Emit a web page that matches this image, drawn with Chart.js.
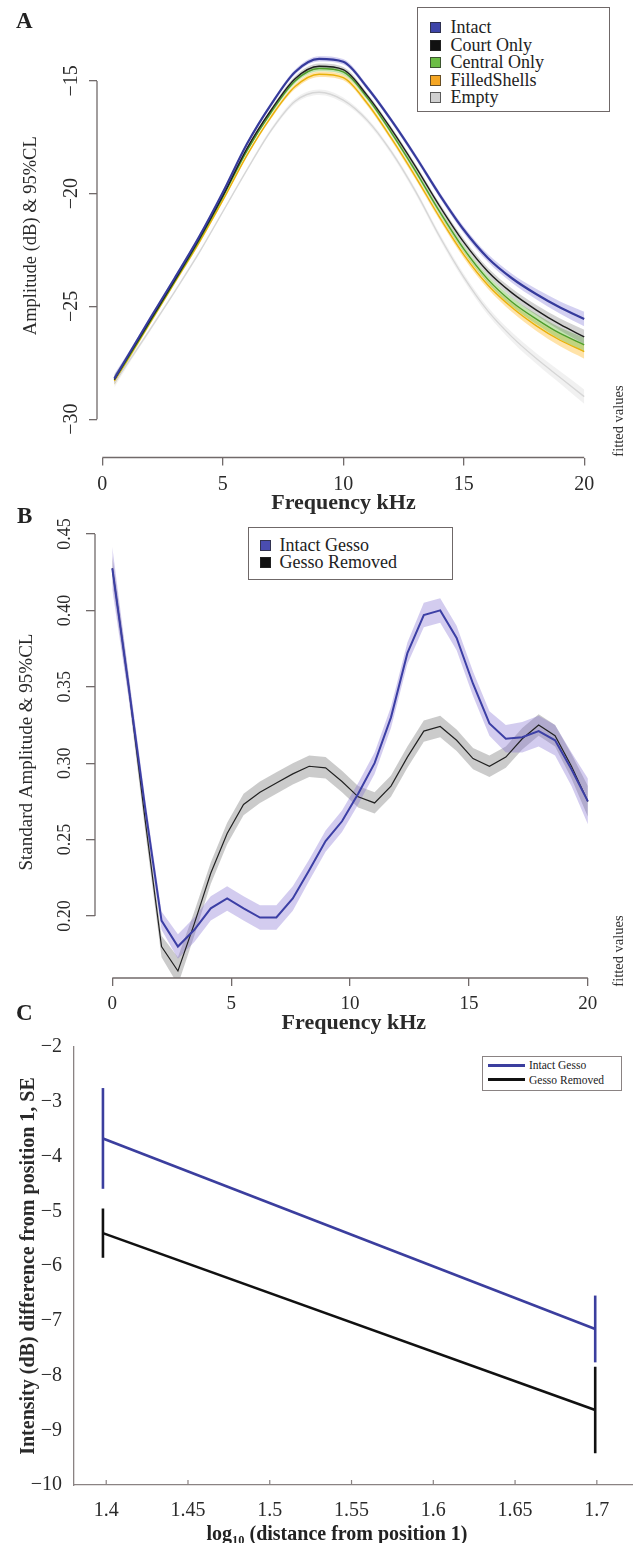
<!DOCTYPE html>
<html>
<head>
<meta charset="utf-8">
<title>Shell amplitude figure</title>
<script src="https://cdn.jsdelivr.net/npm/chart.js@4.4.1/dist/chart.umd.min.js"></script>
<style>
  body { margin: 0; background: #fff; font-family: 'Liberation Serif', 'Times New Roman', serif; color: #222; }
  #page { position: relative; width: 640px; height: 1543px; overflow: hidden; }
  canvas { position: absolute; left: 0; }
  .tag { position: absolute; font-weight: bold; font-size: 23px; line-height: 23px; }
  .legend { position: absolute; box-sizing: border-box; background: #fff; border: 1.5px solid #6f6868; }
  .legend .row { display: flex; align-items: center; white-space: nowrap; }
  .legend .sw { box-sizing: border-box; border: 1px solid rgba(40,40,40,0.7); flex: none; }
  #xTitleC { position: absolute; left: 137px; width: 400px; top: 1521px; line-height: 24px; text-align: center; font-weight: bold; font-size: 20px; }
  #xTitleC sub { font-size: 0.62em; vertical-align: -0.3em; line-height: 0; }
</style>
</head>
<body>
<div id="page">
  <canvas id="chartA" width="640" height="530" style="top:0"></canvas>
  <canvas id="chartB" width="640" height="540" style="top:500px"></canvas>
  <canvas id="chartC" width="640" height="513" style="top:1030px"></canvas>
  <div class="tag" style="left:16px;top:9px">A</div>
  <div class="tag" style="left:17px;top:504px">B</div>
  <div class="tag" style="left:16px;top:1001px">C</div>
  <div class="legend" id="legendA" style="left:417px;top:7px;width:193px;height:105px;padding:11px 0 0 11.5px;font-size:18px"></div>
  <div class="legend" id="legendB" style="left:247.5px;top:527px;width:205.5px;height:52.5px;padding:8.4px 0 0 11.7px;font-size:18px"></div>
  <div class="legend" id="legendC" style="left:481.6px;top:1056px;width:140.4px;height:35px;padding:0.9px 0 0 5.4px;font-size:11.5px;border-color:#8a8383"></div>
  <div id="xTitleC">log<sub>10</sub> (distance from position 1)</div>
</div>
<script>
// panel A: fitted amplitude per shell treatment
const freqA = [0.5, 1, 2, 3, 4, 5, 6, 7, 8, 9, 10, 11, 12, 13, 14, 15, 16, 17, 18, 19, 20];
const intactA = [-28.2, -27.3, -25.5, -23.75, -21.95, -19.95, -17.8, -16.05, -14.6, -14.02, -14.15, -15.3, -16.75, -18.35, -20.05, -21.6, -22.85, -23.75, -24.45, -25.05, -25.56];
const courtA = [-28.25, -27.35, -25.6, -23.85, -22.05, -20.1, -18.0, -16.3, -14.9, -14.35, -14.5, -15.65, -17.15, -18.8, -20.55, -22.15, -23.45, -24.4, -25.15, -25.8, -26.35];
const centralA = [-28.25, -27.4, -25.65, -23.9, -22.1, -20.15, -18.1, -16.4, -15.0, -14.45, -14.6, -15.75, -17.3, -19.0, -20.8, -22.45, -23.8, -24.8, -25.55, -26.2, -26.7];
const filledA = [-28.3, -27.45, -25.7, -23.95, -22.2, -20.3, -18.3, -16.6, -15.25, -14.7, -14.85, -16.0, -17.55, -19.25, -21.05, -22.7, -24.05, -25.05, -25.85, -26.5, -27.0];
const emptyA = [-28.4, -27.6, -26.0, -24.35, -22.65, -20.8, -18.95, -17.2, -15.9, -15.5, -15.85, -16.75, -18.15, -19.9, -21.9, -23.7, -25.2, -26.35, -27.3, -28.15, -29.0];
const ciA = [0.2, 0.12, 0.08, 0.07, 0.07, 0.07, 0.08, 0.09, 0.11, 0.12, 0.12, 0.11, 0.11, 0.12, 0.13, 0.15, 0.17, 0.2, 0.23, 0.27, 0.32];
const namesA = ['Intact', 'Court Only', 'Central Only', 'FilledShells', 'Empty'];
const ticksAx = [0, 5, 10, 15, 20];
const ticksAy = [-30, -25, -20, -15];

// panel B: standard amplitude, gesso intact vs removed
const freqB = [0, 0.69, 1.38, 2.07, 2.76, 3.45, 4.14, 4.83, 5.52, 6.21, 6.9, 7.59, 8.28, 8.97, 9.66, 10.34, 11.03, 11.72, 12.41, 13.1, 13.79, 14.48, 15.17, 15.86, 16.55, 17.24, 17.93, 18.62, 19.31, 20];
const intactB = [0.4275, 0.350, 0.271, 0.197, 0.180, 0.191, 0.205, 0.2115, 0.205, 0.199, 0.199, 0.2115, 0.230, 0.249, 0.262, 0.280, 0.300, 0.330, 0.372, 0.397, 0.400, 0.382, 0.352, 0.326, 0.316, 0.317, 0.321, 0.315, 0.296, 0.275];
const removedB = [0.4275, 0.350, 0.263, 0.180, 0.164, 0.195, 0.228, 0.254, 0.273, 0.281, 0.287, 0.293, 0.298, 0.297, 0.288, 0.278, 0.274, 0.285, 0.304, 0.321, 0.324, 0.315, 0.303, 0.298, 0.304, 0.316, 0.325, 0.318, 0.298, 0.275];
const ciIntactB = [0.014, 0.008, 0.006, 0.006, 0.008, 0.008, 0.008, 0.008, 0.008, 0.008, 0.008, 0.008, 0.007, 0.007, 0.007, 0.007, 0.007, 0.007, 0.007, 0.008, 0.008, 0.008, 0.008, 0.008, 0.009, 0.010, 0.010, 0.010, 0.011, 0.015];
const ciRemovedB = [0.008, 0.007, 0.007, 0.007, 0.009, 0.008, 0.007, 0.007, 0.007, 0.007, 0.007, 0.007, 0.007, 0.007, 0.007, 0.007, 0.007, 0.007, 0.007, 0.007, 0.007, 0.007, 0.007, 0.007, 0.007, 0.007, 0.007, 0.007, 0.008, 0.010];
const namesB = ['Intact Gesso', 'Gesso Removed'];
const ticksBx = [0, 5, 10, 15, 20];
const ticksBy = [0.20, 0.25, 0.30, 0.35, 0.40, 0.45];

// panel C: intensity drop with distance
const distC = [1.398, 1.699];
const intactC = [-3.67, -7.15];
const removedC = [-5.40, -8.63];
const seIntactC = [0.92, 0.61];
const seRemovedC = [0.45, 0.79];
const namesC = ['Intact Gesso', 'Gesso Removed'];
const ticksCx = [1.4, 1.45, 1.5, 1.55, 1.6, 1.65, 1.7];
const ticksCy = [-10, -9, -8, -7, -6, -5, -4, -3, -2];

const axisGray = '#716a6a';
const serif = "'Liberation Serif', 'Times New Roman', serif";
Chart.defaults.font.family = serif;
Chart.defaults.color = '#2a2a2a';

const minus = v => String(v).replace('-', '\u2212');
const fixTicks = list => s => { s.ticks = list.map(value => ({ value })); };

function line(xs, ys, color, width) {
  return { data: xs.map((x, i) => ({ x, y: ys[i] })), borderColor: color, borderWidth: width, fill: false };
}
function band(xs, ys, ci, color) {
  return [
    { data: xs.map((x, i) => ({ x, y: ys[i] - ci[i] })), borderColor: 'rgba(0,0,0,0)', borderWidth: 0, fill: false },
    { data: xs.map((x, i) => ({ x, y: ys[i] + ci[i] })), borderColor: 'rgba(0,0,0,0)', borderWidth: 0, fill: '-1', backgroundColor: color }
  ];
}

// R-style axes: lines only from first to last tick, plus the side note
const rStyle = {
  id: 'rStyle',
  afterDraw(chart, args, opts) {
    const { ctx, chartArea: area, scales: { x, y } } = chart;
    const xt = x.ticks, yt = y.ticks;
    ctx.save();
    ctx.strokeStyle = axisGray;
    ctx.lineWidth = 1.3;
    ctx.beginPath();
    ctx.moveTo(x.getPixelForValue(xt[0].value), area.bottom);
    ctx.lineTo(x.getPixelForValue(xt[xt.length - 1].value), area.bottom);
    ctx.moveTo(area.left, y.getPixelForValue(yt[0].value));
    ctx.lineTo(area.left, y.getPixelForValue(yt[yt.length - 1].value));
    ctx.stroke();
    ctx.fillStyle = '#333';
    ctx.font = "14.5px " + serif;
    ctx.textAlign = 'center';
    ctx.textBaseline = 'middle';
    ctx.translate(opts.x, opts.y);
    ctx.rotate(-Math.PI / 2);
    ctx.fillText(opts.note, 0, 0);
    ctx.restore();
  }
};

// small inward ticks on the x axis of panel C
const innerTicks = {
  id: 'innerTicks',
  afterDraw(chart) {
    const { ctx, chartArea: area, scales: { x } } = chart;
    ctx.save();
    ctx.strokeStyle = '#8a8383';
    ctx.lineWidth = 1.2;
    ctx.beginPath();
    x.ticks.forEach(t => {
      const px = x.getPixelForValue(t.value);
      ctx.moveTo(px, area.bottom);
      ctx.lineTo(px, area.bottom - 5);
    });
    ctx.stroke();
    ctx.restore();
  }
};

const rGrid = { drawOnChartArea: false, color: axisGray, lineWidth: 1.3 };

new Chart(document.getElementById('chartA'), {
  type: 'line',
  data: {
    datasets: [
      line(freqA, intactA, '#363b9c', 2.2),
      line(freqA, courtA, '#1e1e1e', 1.4),
      line(freqA, centralA, '#4f9d2a', 1.4),
      line(freqA, filledA, '#e9b10a', 1.4),
      line(freqA, emptyA, '#d6d6d6', 1.3),
      ...band(freqA, intactA, ciA, 'rgba(110,100,210,0.3)'),
      ...band(freqA, courtA, ciA, 'rgba(110,110,110,0.3)'),
      ...band(freqA, centralA, ciA, 'rgba(120,195,80,0.45)'),
      ...band(freqA, filledA, ciA, 'rgba(255,185,40,0.4)'),
      ...band(freqA, emptyA, ciA, 'rgba(200,200,200,0.25)')
    ]
  },
  options: {
    responsive: false,
    animation: false,
    layout: { padding: { top: 1, right: 50, bottom: 0, left: 0 } },
    datasets: { line: { pointRadius: 0, cubicInterpolationMode: 'monotone' } },
    plugins: {
      legend: { display: false },
      tooltip: { enabled: false },
      rStyle: { note: 'fitted values', x: 619, y: 421 }
    },
    scales: {
      x: {
        type: 'linear', min: -0.22, max: 20.24,
        afterFit: s => { s.height = 72.5; },
        afterBuildTicks: fixTicks(ticksAx),
        border: { display: false },
        grid: { ...rGrid, tickLength: 8 },
        ticks: { font: { size: 20 }, padding: 7.5, autoSkip: false, maxRotation: 0 },
        title: { display: true, text: 'Frequency kHz', font: { size: 22, weight: 'bold' }, padding: { top: 0, bottom: 13.8 } }
      },
      y: {
        min: -31.70, max: -12.026,
        afterFit: s => { s.width = 97; },
        afterBuildTicks: fixTicks(ticksAy),
        border: { display: false },
        grid: { ...rGrid, tickLength: 8 },
        ticks: { font: { size: 20 }, padding: 1.9, minRotation: 90, maxRotation: 90, crossAlign: 'center', autoSkip: false, callback: minus },
        title: { display: true, text: 'Amplitude (dB) & 95%CL', font: { size: 18.5 }, padding: { top: 20, bottom: 0 } }
      }
    }
  },
  plugins: [rStyle]
});

new Chart(document.getElementById('chartB'), {
  type: 'line',
  data: {
    datasets: [
      line(freqB, intactB, '#3c3fa5', 2),
      line(freqB, removedB, '#222222', 1.2),
      ...band(freqB, intactB, ciIntactB, 'rgba(130,110,210,0.35)'),
      ...band(freqB, removedB, ciRemovedB, 'rgba(140,140,140,0.45)')
    ]
  },
  options: {
    responsive: false,
    animation: false,
    layout: { padding: { top: 26, right: 27.4, bottom: 0, left: 0 } },
    datasets: { line: { pointRadius: 0, tension: 0 } },
    plugins: {
      legend: { display: false },
      tooltip: { enabled: false },
      rStyle: { note: 'fitted values', x: 619, y: 451 }
    },
    scales: {
      x: {
        type: 'linear', min: -0.7275, max: 21.04,
        afterFit: s => { s.height = 62; },
        afterBuildTicks: fixTicks(ticksBx),
        border: { display: false },
        grid: { ...rGrid, tickLength: 8 },
        ticks: { font: { size: 19 }, padding: 6.6, autoSkip: false, maxRotation: 0 },
        title: { display: true, text: 'Frequency kHz', font: { size: 22, weight: 'bold' }, padding: { top: 0, bottom: 3.5 } }
      },
      y: {
        min: 0.15942, max: 0.45524,
        afterFit: s => { s.width = 95; },
        afterBuildTicks: fixTicks(ticksBy),
        border: { display: false },
        grid: { ...rGrid, tickLength: 9 },
        ticks: { font: { size: 18 }, padding: 4.85, minRotation: 90, maxRotation: 90, crossAlign: 'center', autoSkip: false, callback: v => v.toFixed(2) },
        title: { display: true, text: 'Standard Amplitude & 95%CL', font: { size: 19 }, padding: { top: 15.6, bottom: 0 } }
      }
    }
  },
  plugins: [rStyle]
});

const blueC = '#3b3e9e';
const blackC = '#111111';
const errorBars = (xs, ys, se, color) => xs.map((x, i) => ({
  data: [{ x, y: ys[i] - se[i] }, { x, y: ys[i] + se[i] }], borderColor: color, borderWidth: 2.6, fill: false
}));

new Chart(document.getElementById('chartC'), {
  type: 'line',
  data: {
    datasets: [
      line(distC, intactC, blueC, 2.6),
      line(distC, removedC, blackC, 2.6),
      ...errorBars(distC, intactC, seIntactC, blueC),
      ...errorBars(distC, removedC, seRemovedC, blackC)
    ]
  },
  options: {
    responsive: false,
    animation: false,
    layout: { padding: { top: 17, right: 8, bottom: 0, left: 0 } },
    datasets: { line: { pointRadius: 0, tension: 0 } },
    plugins: { legend: { display: false }, tooltip: { enabled: false } },
    scales: {
      x: {
        type: 'linear', min: 1.3803, max: 1.7215,
        afterFit: s => { s.height = 58; },
        afterBuildTicks: fixTicks(ticksCx),
        border: { display: true, color: '#8a8383', width: 1.3 },
        grid: { display: false },
        ticks: { font: { size: 20 }, padding: 6, autoSkip: false, maxRotation: 0, callback: v => String(v) }
      },
      y: {
        min: -10, max: -2,
        afterFit: s => { s.width = 74; },
        afterBuildTicks: fixTicks(ticksCy),
        border: { display: true, color: '#8a8383', width: 1.3 },
        grid: { display: false },
        ticks: { font: { size: 20 }, padding: 4, autoSkip: false, callback: minus },
        title: { display: true, text: 'Intensity (dB) difference from position 1, SE', font: { size: 20, weight: 'bold' }, padding: { top: 17, bottom: 0 } }
      }
    }
  },
  plugins: [innerTicks]
});

// legends
function squareLegend(id, names, colors, rowH, box, gap) {
  document.getElementById(id).innerHTML = names.map((n, i) =>
    `<div class="row" style="height:${rowH}px"><span class="sw" style="width:${box}px;height:${box}px;background:${colors[i]};margin-right:${gap}px"></span>${n}</div>`
  ).join('');
}
squareLegend('legendA', namesA, ['#3d44a8', '#111111', '#6cbd45', '#f5a623', '#d0d0d0'], 17.5, 11, 10);
squareLegend('legendB', namesB, ['#4a4db0', '#111111'], 17.6, 11, 8.3);
document.getElementById('legendC').innerHTML = namesC.map((n, i) =>
  `<div class="row" style="height:14.6px"><span style="display:inline-block;width:37.5px;height:3px;background:${[blueC, blackC][i]};margin-right:3.5px"></span>${n}</div>`
).join('');
</script>
</body>
</html>
